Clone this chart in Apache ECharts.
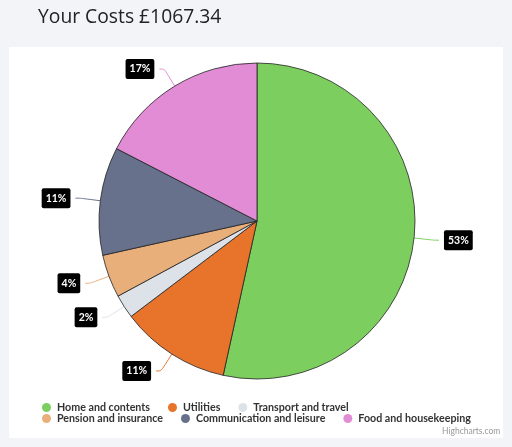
<!DOCTYPE html>
<html><head><meta charset="utf-8">
<script src="https://cdn.jsdelivr.net/npm/echarts@6/dist/echarts.min.js"></script>
<style>html,body{margin:0;padding:0;background:#f3f4f8;}#c{width:512px;height:447px;}</style>
</head><body><div id="c"></div>
<script>
const titleText = 'Your Costs £1067.34';
const categories = ['Home and contents','Utilities','Transport and travel','Pension and insurance','Communication and leisure','Food and housekeeping'];
const costs = [570.34, 120, 26, 47, 118, 186];
const colors = ['#7ccf5e','#e8742c','#dde1e8','#e9af7b','#67718b','#e28cd6'];

const chart = echarts.init(document.getElementById('c'));
const legendCommon = {
  orient: 'horizontal', itemGap: 18, itemWidth: 11, itemHeight: 9, icon: 'circle',
  itemStyle: {borderWidth: 0},
  textStyle: {fontFamily: 'Lato', fontWeight: 'bold', fontSize: 10.7, color: '#333'}
};
chart.setOption({
  backgroundColor: '#f3f4f8',
  animation: false,
  title: {text: titleText, left: 33, top: 3, textStyle: {fontFamily: 'Open Sans', fontWeight: 'normal', fontSize: 19.3, color: '#222'}},
  graphic: [
    {type: 'rect', shape: {x: 9, y: 47, width: 494, height: 391}, style: {fill: '#fff'}, z: -1},
    {type: 'text', left: 442, top: 427, style: {text: 'Highcharts.com', fontSize: 8.5, fill: '#999', fontFamily: 'Lato'}}
  ],
  legend: [
    Object.assign({data: categories.slice(0,3), left: 37, top: 397}, legendCommon),
    Object.assign({data: categories.slice(3), left: 37, top: 408}, legendCommon)
  ],
  series: [{
    type: 'pie',
    center: [257, 221],
    radius: [0, 158],
    startAngle: 90,
    clockwise: true,
    data: categories.map((n, i) => ({name: n, value: costs[i], itemStyle: {color: colors[i]}})),
    itemStyle: {borderColor: '#222', borderWidth: 0.8},
    label: {
      position: 'outside',
      formatter: p => Math.round(p.percent) + '%',
      backgroundColor: '#000', color: '#fff', fontWeight: 'bold', fontSize: 10.5, fontFamily: 'Lato',
      padding: [5, 4, 4, 4], borderRadius: 2
    },
    labelLine: {show: true, length: 20, length2: 5, smooth: 0.3, lineStyle: {width: 1}},
    emphasis: {disabled: true}
  }]
});
</script></body></html>
